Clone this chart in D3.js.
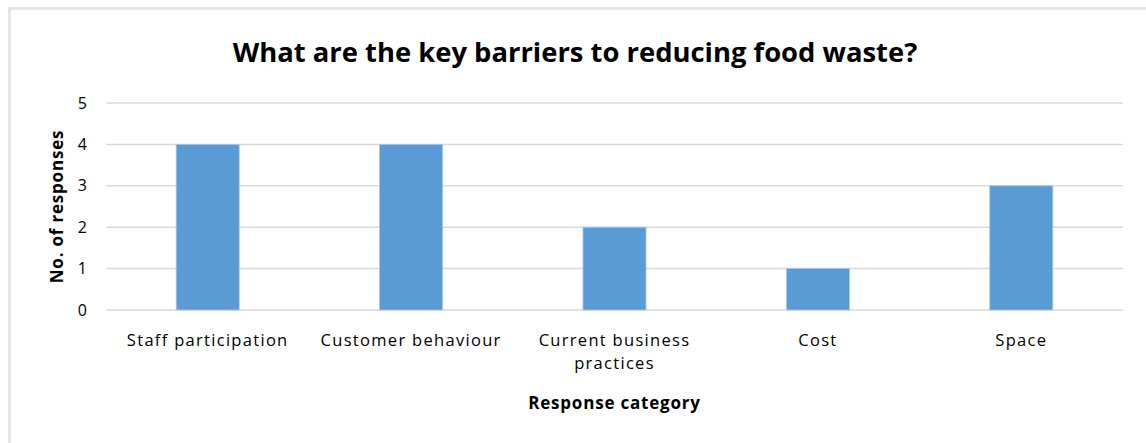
<!DOCTYPE html>
<html>
<head>
<meta charset="utf-8">
<script src="https://cdn.jsdelivr.net/npm/d3@7"></script>
<style>
  body { margin: 0; background: #fff; }
  text { font-family: "Open Sans", Calibri, Carlito, sans-serif; fill: #000; }
</style>
</head>
<body>
<svg id="chart" width="1146" height="443"></svg>
<script>
var categories = ["Staff participation", "Customer behaviour", "Current business practices", "Cost", "Space"];
var responses = [4, 4, 2, 1, 3];
var yTicks = [0, 1, 2, 3, 4, 5];

var svg = d3.select("#chart");
var margin = { left: 106, right: 23, top: 103, bottom: 133 };
var width = 1146, height = 443;

// chart area frame (only top and left edges show in the crop)
svg.append("path")
    .attr("d", "M9.5 443 L9.5 8.5 L1146 8.5")
    .attr("fill", "none")
    .attr("stroke", "#e6e6e6")
    .attr("stroke-width", 3);

var x = d3.scaleBand()
    .domain(categories)
    .range([margin.left, width - margin.right])
    .paddingInner(0.69)
    .paddingOuter(0.345);

var y = d3.scaleLinear()
    .domain([0, 5])
    .range([height - margin.bottom, margin.top]);

// gridlines
svg.append("g")
    .selectAll("line")
    .data(yTicks).enter()
    .append("line")
    .attr("x1", margin.left)
    .attr("x2", width - margin.right)
    .attr("y1", function(d) { return y(d); })
    .attr("y2", function(d) { return y(d); })
    .attr("stroke", "#d9d9d9")
    .attr("stroke-width", 1.5);

// bars
svg.append("g")
    .selectAll("rect")
    .data(responses).enter()
    .append("rect")
    .attr("x", function(d, i) { return x(categories[i]); })
    .attr("width", x.bandwidth())
    .attr("y", function(d) { return y(d); })
    .attr("height", function(d) { return y(0) - y(d); })
    .attr("fill", "#5b9bd5")
    .attr("stroke", "#a9c7e8")
    .attr("stroke-width", 0.8);

// y tick labels
svg.append("g")
    .selectAll("text")
    .data(yTicks).enter()
    .append("text")
    .attr("x", 87)
    .attr("y", function(d) { return y(d); })
    .attr("dy", "0.35em")
    .attr("text-anchor", "end")
    .attr("font-size", 16)
    .attr("fill", "#404040")
    .text(function(d) { return d; });

// x labels, wrapped
var xl = svg.append("g")
    .selectAll("text")
    .data(categories).enter()
    .append("text")
    .attr("x", function(d) { return x(d) + x.bandwidth() / 2; })
    .attr("y", 346)
    .attr("text-anchor", "middle")
    .attr("font-size", 16.5)
    .attr("letter-spacing", 1.3)
    .attr("fill", "#262626");

xl.each(function(d) {
    var lines = d === "Current business practices" ? ["Current business", "practices"] : [d];
    var t = d3.select(this);
    lines.forEach(function(l, i) {
        t.append("tspan")
            .attr("x", t.attr("x"))
            .attr("dy", i === 0 ? 0 : 23)
            .text(l);
    });
});

// title
svg.append("text")
    .attr("x", 575)
    .attr("y", 62)
    .attr("text-anchor", "middle")
    .attr("font-size", 27.4)
    .attr("font-weight", "bold")
    .text("What are the key barriers to reducing food waste?");

// axis titles
svg.append("text")
    .attr("transform", "translate(63," + y(2.5) + ") rotate(-90)")
    .attr("text-anchor", "middle")
    .attr("font-size", 17)
    .attr("font-weight", "bold")
    .attr("letter-spacing", 0.8)
    .text("No. of responses");

svg.append("text")
    .attr("x", x("Current business practices") + x.bandwidth() / 2)
    .attr("y", 409)
    .attr("text-anchor", "middle")
    .attr("font-size", 17)
    .attr("font-weight", "bold")
    .attr("letter-spacing", 0.8)
    .text("Response category");
</script>
</body>
</html>
